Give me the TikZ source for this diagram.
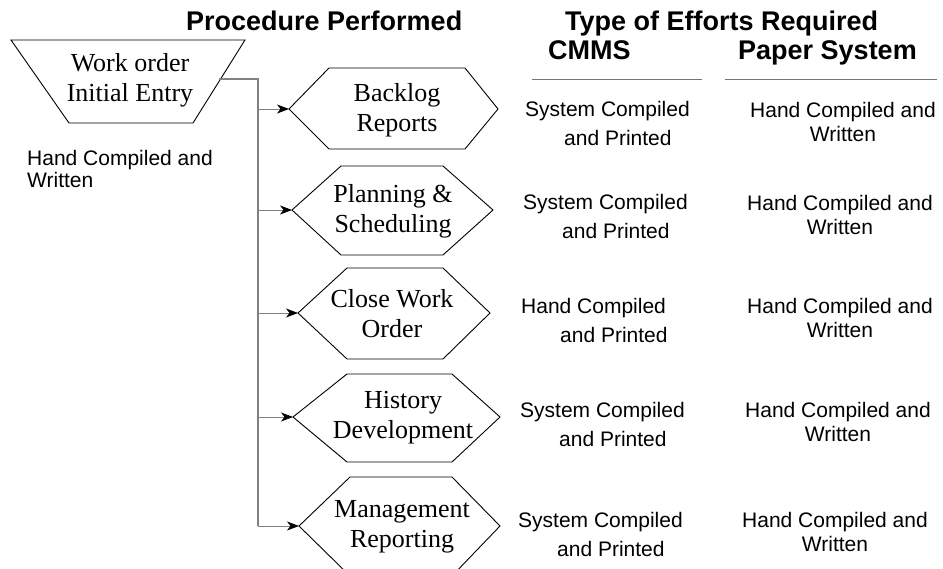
\documentclass[tikz,border=0pt]{standalone}
\usepackage{fontspec}
\setmainfont{Liberation Serif}
\newfontfamily\arialf{Liberation Sans}
\usetikzlibrary{arrows.meta}
\begin{document}
\begin{tikzpicture}[x=1pt,y=-1pt,
  shapeline/.style={draw=black,line width=0.9pt,line join=miter},
  serifbox/.style={font=\fontsize{26}{30}\selectfont,align=center,inner sep=0pt},
  cmmscell/.style={font=\arialf\fontsize{21}{29}\selectfont,align=left,inner sep=0pt,anchor=north west},
  papercell/.style={font=\arialf\fontsize{21}{24}\selectfont,align=center,inner sep=0pt,anchor=north west},
  lefttext/.style={font=\arialf\fontsize{21}{22}\selectfont,align=left,inner sep=0pt,anchor=north west},
  heading/.style={font=\arialf\bfseries\fontsize{27}{30}\selectfont,inner sep=0pt,anchor=base west},
  bus/.style={draw=black!50,line width=1.4pt},
  branch/.style={draw=black!50,line width=0.8pt,-{Stealth[color=black,length=12pt,width=9pt,inset=3.5pt]}},
  rule/.style={draw=black!55,line width=0.6pt}]
\useasboundingbox (0,0) rectangle (943,569);
\clip (0,0) rectangle (943,569);

% headings
\node[heading] (hpp) at (186,31) {Procedure Performed};
\node[heading] (hte) at (565,31) {Type of Efforts Required};
\node[heading] (hcm) at (548,60) {CMMS};
\node[heading] (hps) at (738,60) {Paper System};
\draw[rule] (532,79) -- (702,79);
\draw[rule] (725,79) -- (937,79);

% trapezoid
\draw[shapeline] (11,40) -- (245,40) -- (193,123) -- (69,123) -- cycle;
\node[serifbox] (wo) at (130,80) {Work order\\Initial Entry};
\coordinate (trapR) at (219,79);
\node[lefttext] (wotxt) at (27,149.7) {Hand Compiled and\\Written};

% hexagons
\draw[shapeline] (289,109) -- (329,68) -- (465,68) -- (498,109) -- (465,149) -- (329,149) -- cycle;
\coordinate (h1) at (289,109);
\node[serifbox] (t1) at (397,110) {Backlog\\Reports};

\draw[shapeline] (292,210) -- (341,166) -- (443,166) -- (493,210) -- (443,255) -- (341,255) -- cycle;
\coordinate (h2) at (292,210);
\node[serifbox] (t2) at (393,211) {Planning \&\\Scheduling};

\draw[shapeline] (298,313) -- (347,268) -- (443,268) -- (490,313) -- (443,359) -- (347,359) -- cycle;
\coordinate (h3) at (298,313);
\node[serifbox] (t3) at (392,314) {Close Work\\Order};

\draw[shapeline] (293,417) -- (347,374) -- (452,374) -- (500,417) -- (452,462) -- (347,462) -- cycle;
\coordinate (h4) at (293,417);
\node[serifbox] (t4) at (403,418) {History\\Development};

\draw[shapeline] (299,526) -- (350,477) -- (452,477) -- (500,526) -- (452,576) -- (350,576) -- cycle;
\coordinate (h5) at (299,526);
\node[serifbox] (t5) at (402,527) {Management\\Reporting};

% connectors
\coordinate (j1) at (258,109);
\coordinate (j2) at (258,210);
\coordinate (j3) at (258,313);
\coordinate (j4) at (258,417);
\coordinate (j5) at (258,526);
\draw[bus] (trapR) -| (j5);
\draw[branch] (j1) -- (h1);
\draw[branch] (j2) -- (h2);
\draw[branch] (j3) -- (h3);
\draw[branch] (j4) -- (h4);
\draw[branch] (j5) -- (h5);

% CMMS column
\node[cmmscell] (c1) at (525,100.7) {System Compiled\\\hspace*{39pt}and Printed};
\node[cmmscell] (c2) at (523,193.7) {System Compiled\\\hspace*{39pt}and Printed};
\node[cmmscell] (c3) at (521,297.7) {Hand Compiled\\\hspace*{39pt}and Printed};
\node[cmmscell] (c4) at (520,401.7) {System Compiled\\\hspace*{39pt}and Printed};
\node[cmmscell] (c5) at (518,511.7) {System Compiled\\\hspace*{39pt}and Printed};

% Paper column
\node[papercell] (p1) at (750,101.7) {Hand Compiled and\\Written};
\node[papercell] (p2) at (747,194.7) {Hand Compiled and\\Written};
\node[papercell] (p3) at (747,297.7) {Hand Compiled and\\Written};
\node[papercell] (p4) at (745,401.7) {Hand Compiled and\\Written};
\node[papercell] (p5) at (742,511.7) {Hand Compiled and\\Written};
\end{tikzpicture}
\end{document}
